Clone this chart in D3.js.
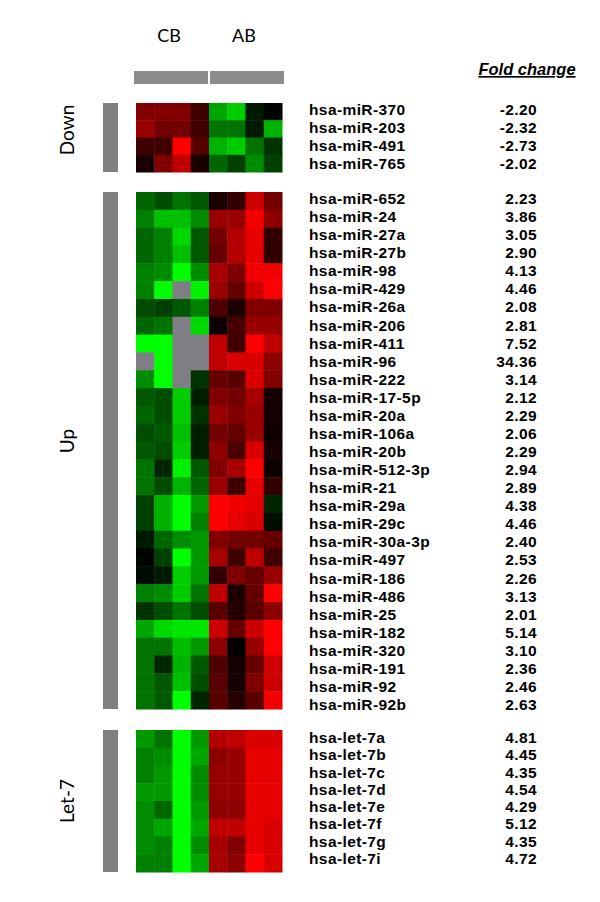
<!DOCTYPE html>
<html>
<head>
<meta charset="utf-8">
<script src="https://cdn.jsdelivr.net/npm/d3@7"></script>
<style>
  body { margin: 0; background: #fff; }
</style>
</head>
<body>
<div id="chart"></div>
<script>
// columns: 4 CB samples then 4 AB samples
var columns = ["CB1", "CB2", "CB3", "CB4", "AB1", "AB2", "AB3", "AB4"];
var conditions = ["CB", "AB"];

var downGenes = ["hsa-miR-370", "hsa-miR-203", "hsa-miR-491", "hsa-miR-765"];
var downFold = [-2.20, -2.32, -2.73, -2.02];
// signed expression: negative = green, positive = red, null = missing (gray)
var downCells = [
    [0.5, 0.5, 0.5, 0.25, -0.65, -0.8, -0.1, -0.02],
    [0.6, 0.45, 0.45, 0.25, -0.45, -0.45, -0.1, -0.7],
    [0.25, 0.25, 1.0, 0.35, -0.7, -0.8, -0.45, -0.2],
    [0.1, 0.5, 0.75, 0.1, -0.4, -0.25, -0.55, -0.25]
];

var upGenes = ["hsa-miR-652", "hsa-miR-24", "hsa-miR-27a", "hsa-miR-27b", "hsa-miR-98",
    "hsa-miR-429", "hsa-miR-26a", "hsa-miR-206", "hsa-miR-411", "hsa-miR-96",
    "hsa-miR-222", "hsa-miR-17-5p", "hsa-miR-20a", "hsa-miR-106a", "hsa-miR-20b",
    "hsa-miR-512-3p", "hsa-miR-21", "hsa-miR-29a", "hsa-miR-29c", "hsa-miR-30a-3p",
    "hsa-miR-497", "hsa-miR-186", "hsa-miR-486", "hsa-miR-25", "hsa-miR-182",
    "hsa-miR-320", "hsa-miR-191", "hsa-miR-92", "hsa-miR-92b"];
var upFold = [2.23, 3.86, 3.05, 2.90, 4.13, 4.46, 2.08, 2.81, 7.52, 34.36,
    3.14, 2.12, 2.29, 2.06, 2.29, 2.94, 2.89, 4.38, 4.46, 2.40,
    2.53, 2.26, 3.13, 2.01, 5.14, 3.10, 2.36, 2.46, 2.63];
var upCells = [
    [-0.4, -0.3, -0.45, -0.35, 0.1, 0.2, 0.8, 0.45],
    [-0.5, -0.75, -0.75, -0.55, 0.6, 0.6, 0.95, 0.55],
    [-0.4, -0.5, -0.85, -0.35, 0.45, 0.7, 0.9, 0.2],
    [-0.4, -0.5, -0.75, -0.35, 0.4, 0.7, 0.9, 0.2],
    [-0.5, -0.55, -1, -0.55, 0.65, 0.5, 0.95, 0.95],
    [-0.5, -1, null, -0.95, 0.6, 0.4, 0.8, 1],
    [-0.3, -0.25, -0.35, -0.5, 0.3, 0.12, 0.5, 0.5],
    [-0.4, -0.45, null, -0.85, 0.05, 0.28, 0.6, 0.6],
    [-1, -1, null, null, 0.75, 0.25, 1, 0.75],
    [null, -1, null, null, 0.75, 0.85, 0.85, 0.55],
    [-0.55, -1, null, -0.2, 0.4, 0.35, 0.85, 0.5],
    [-0.35, -0.3, -0.8, -0.12, 0.5, 0.45, 0.65, 0.08],
    [-0.4, -0.3, -0.8, -0.2, 0.6, 0.5, 0.6, 0.08],
    [-0.3, -0.35, -0.75, -0.12, 0.45, 0.4, 0.6, 0.06],
    [-0.35, -0.3, -0.8, -0.12, 0.55, 0.3, 0.85, 0.1],
    [-0.45, -0.15, -0.95, -0.35, 0.5, 0.65, 1, 0.05],
    [-0.45, -0.3, -0.7, -0.4, 0.6, 0.25, 0.9, 0.2],
    [-0.25, -0.7, -1, -0.6, 1, 0.95, 0.9, -0.15],
    [-0.25, -0.7, -1, -0.5, 1, 0.9, 0.85, -0.05],
    [-0.1, -0.4, -0.55, -0.6, 0.5, 0.45, 0.45, 0.4],
    [-0.02, -0.25, -1, -0.6, 0.65, 0.25, 0.75, 0.25],
    [-0.05, -0.1, -0.8, -0.6, 0.2, 0.5, 0.4, 0.6],
    [-0.5, -0.55, -0.8, -0.45, 0.75, 0.12, 0.4, 1],
    [-0.2, -0.3, -0.45, -0.3, 0.35, 0.15, 0.35, 0.55],
    [-0.65, -0.85, -0.9, -0.9, 0.8, 0.4, 0.8, 1],
    [-0.45, -0.45, -0.75, -0.6, 0.55, 0.02, 0.6, 1],
    [-0.45, -0.15, -0.7, -0.35, 0.3, 0.08, 0.4, 0.8],
    [-0.45, -0.35, -0.75, -0.3, 0.35, 0.08, 0.5, 0.8],
    [-0.45, -0.35, -1, -0.15, 0.35, 0.15, 0.35, 0.95]
];

var let7Genes = ["hsa-let-7a", "hsa-let-7b", "hsa-let-7c", "hsa-let-7d",
    "hsa-let-7e", "hsa-let-7f", "hsa-let-7g", "hsa-let-7i"];
var let7Fold = [4.81, 4.45, 4.35, 4.54, 4.29, 5.12, 4.35, 4.72];
var let7Cells = [
    [-0.6, -0.45, -1, -0.6, 0.7, 0.75, 0.85, 0.85],
    [-0.5, -0.55, -1, -0.65, 0.55, 0.6, 0.9, 0.9],
    [-0.5, -0.6, -1, -0.55, 0.6, 0.6, 0.9, 0.9],
    [-0.6, -0.6, -1, -0.55, 0.6, 0.6, 0.9, 0.9],
    [-0.55, -0.4, -1, -0.6, 0.55, 0.55, 0.9, 0.9],
    [-0.55, -0.65, -1, -0.65, 0.75, 0.75, 0.9, 0.85],
    [-0.55, -0.5, -1, -0.55, 0.65, 0.5, 0.9, 0.85],
    [-0.5, -0.5, -1, -0.65, 0.65, 0.55, 1, 0.85]
];

const WIDTH = 600;
const HEIGHT = 902;

const HEAT_X = [136, 282];
const BAR_X = 103, BAR_W = 15;
const NAME_X = 309;
const FOLD_X = 537;
const GROUP_LABEL_X = 67;

// layout of each block: heatmap extent and label baselines
var groups = [
    {name: "Down", genes: downGenes, fold: downFold, cells: downCells,
     heat: [103, 172], labels: [115, 169], labelY: 130},
    {name: "Up", genes: upGenes, fold: upFold, cells: upCells,
     heat: [192, 709], labels: [204, 710], labelY: 441},
    {name: "Let-7", genes: let7Genes, fold: let7Fold, cells: let7Cells,
     heat: [730, 872], labels: [743, 864], labelY: 801}
];

var svg = d3.select("#chart")
    .append("svg")
    .attr("width", WIDTH)
    .attr("height", HEIGHT)
    .append("g");

var xScale = d3.scaleBand().domain(columns).range(HEAT_X);
var condScale = d3.scaleBand().domain(conditions).range([134, 284]).paddingInner(0.025);

var color = d3.scaleLinear()
    .domain([-1, 0, 1])
    .range(["#00ff00", "#000000", "#ff0000"])
    .clamp(true);

// plain hyphen for negatives, as in the figure
var fmt = d => d.toFixed(2);

// condition headers
svg.append("g").selectAll("text")
    .data(conditions)
    .enter()
    .append("text")
    .attr("x", d => condScale(d) + condScale.bandwidth() / 2 + (d == "CB" ? -2 : -3))
    .attr("y", 42)
    .attr("text-anchor", "middle")
    .style("font-family", "Lato, 'Open Sans', sans-serif")
    .style("font-size", "18px")
    .text(d => d);

svg.append("g").selectAll("rect")
    .data(conditions)
    .enter()
    .append("rect")
    .attr("x", d => condScale(d))
    .attr("y", 71)
    .attr("width", condScale.bandwidth())
    .attr("height", 13)
    .attr("fill", "#8c8c8c");

// Fold change title
svg.append("text")
    .attr("x", 527)
    .attr("y", 75)
    .attr("text-anchor", "middle")
    .style("font-family", "'Liberation Sans', Arial, sans-serif")
    .style("font-size", "16.5px")
    .style("font-weight", "bold")
    .style("font-style", "italic")
    .style("text-decoration", "underline")
    .text("Fold change");

groups.forEach(function (g) {
    var yScale = d3.scaleBand().domain(g.genes).range(g.heat);
    var labelScale = d3.scalePoint().domain(g.genes).range(g.labels);
    var block = svg.append("g");

    // side bar
    block.append("rect")
        .attr("x", BAR_X)
        .attr("y", g.heat[0])
        .attr("width", BAR_W)
        .attr("height", g.heat[1] - g.heat[0])
        .attr("fill", "#808080");

    // group label
    block.append("text")
        .attr("transform", "translate(" + GROUP_LABEL_X + "," + g.labelY + ") rotate(-90)")
        .attr("text-anchor", "middle")
        .attr("dy", "0.35em")
        .style("font-family", "Lato, 'Open Sans', sans-serif")
        .style("font-size", "19px")
        .text(g.name);

    // cells
    var cellData = [];
    g.cells.forEach(function (row, i) {
        row.forEach(function (v, j) {
            cellData.push({gene: g.genes[i], col: columns[j], v: v});
        });
    });
    block.append("g").selectAll("rect")
        .data(cellData)
        .enter()
        .append("rect")
        .attr("x", d => xScale(d.col))
        .attr("y", d => yScale(d.gene))
        .attr("width", xScale.bandwidth() + 0.5)
        .attr("height", yScale.bandwidth() + 0.5)
        .attr("fill", d => d.v === null ? "#7e7e84" : color(d.v));

    // gene names
    block.append("g").selectAll("text")
        .data(g.genes)
        .enter()
        .append("text")
        .attr("x", NAME_X)
        .attr("y", d => labelScale(d))
        .style("font-family", "'Liberation Sans', Arial, sans-serif")
        .style("font-size", "15.5px")
        .style("font-weight", "bold")
        .style("letter-spacing", "0.4px")
        .text(d => d);

    // fold change values
    block.append("g").selectAll("text")
        .data(g.fold)
        .enter()
        .append("text")
        .attr("x", FOLD_X)
        .attr("y", (d, i) => labelScale(g.genes[i]))
        .attr("text-anchor", "end")
        .style("font-family", "'Liberation Sans', Arial, sans-serif")
        .style("font-size", "15.5px")
        .style("font-weight", "bold")
        .style("letter-spacing", "0.4px")
        .text(d => fmt(d));
});
</script>
</body>
</html>
